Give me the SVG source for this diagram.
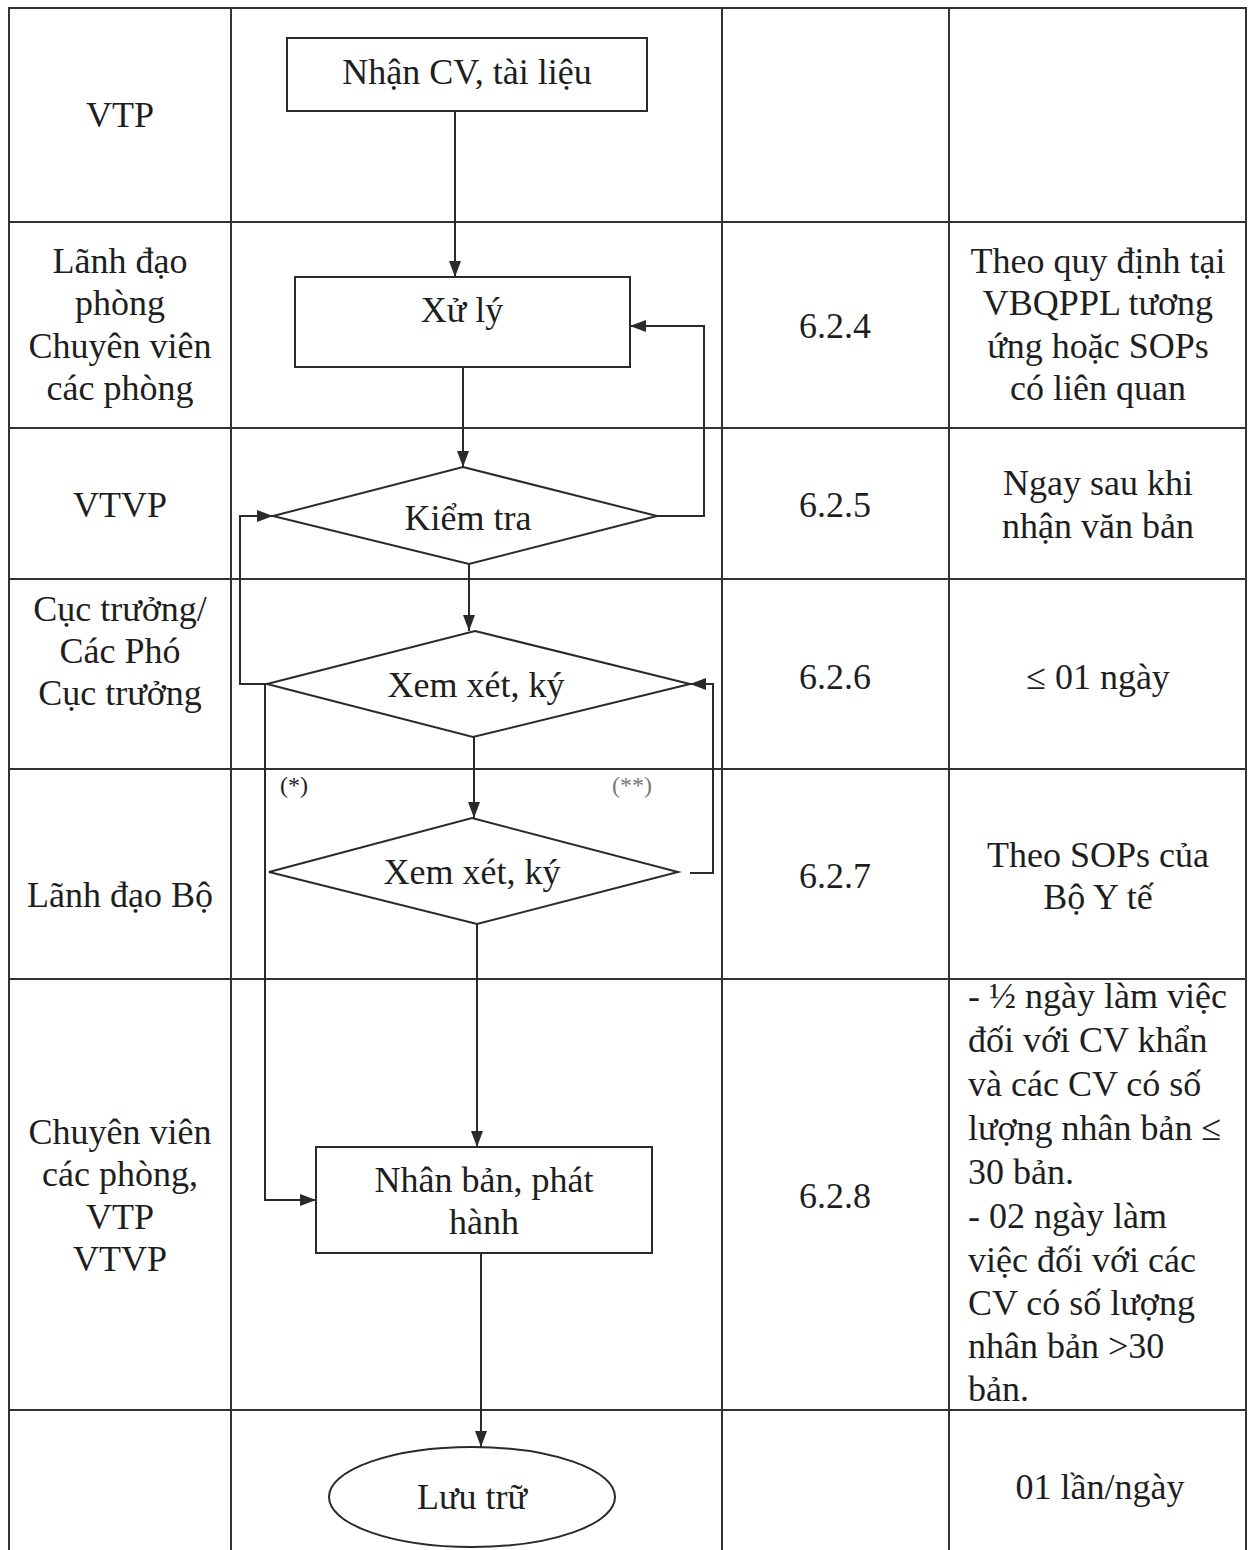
<svg xmlns="http://www.w3.org/2000/svg" width="1252" height="1550" viewBox="0 0 1252 1550">
<style>
.grid{stroke:#333;stroke-width:2;fill:none}
.shape{stroke:#2a2a2a;stroke-width:2;fill:#fff}
.conn{stroke:#2a2a2a;stroke-width:2;fill:none}
text{font-family:"Liberation Serif","Times New Roman",serif;font-size:36px;fill:#1e1e1e}
.c{text-anchor:middle}
.l{text-anchor:start}
.small{font-size:24px}
</style>
<defs>
<marker id="ah" markerUnits="userSpaceOnUse" markerWidth="18" markerHeight="12" refX="16" refY="6" orient="auto">
<path d="M0,0 L16,6 L0,12 Z" fill="#2a2a2a"/>
</marker>
</defs>
<rect width="1252" height="1550" fill="#fff"/>
<g id="table">
<path class="grid" d="M9 1550 V8 H1246 V1550 M231 8 V1550 M722 8 V1550 M949 8 V1550 M9 222 H1246 M9 428 H1246 M9 579 H1246 M9 769 H1246 M9 979 H1246 M9 1410 H1246"/>
</g>
<g id="lane-labels">
<text class="c" x="120" y="127">VTP</text>
<text class="c" x="120" y="273">Lãnh đạo</text>
<text class="c" x="120" y="315">phòng</text>
<text class="c" x="120" y="358">Chuyên viên</text>
<text class="c" x="120" y="400">các phòng</text>
<text class="c" x="120" y="517">VTVP</text>
<text class="c" x="120" y="621">Cục trưởng/</text>
<text class="c" x="120" y="663">Các Phó</text>
<text class="c" x="120" y="705">Cục trưởng</text>
<text class="c" x="120" y="907">Lãnh đạo Bộ</text>
<text class="c" x="120" y="1144">Chuyên viên</text>
<text class="c" x="120" y="1186">các phòng,</text>
<text class="c" x="120" y="1229">VTP</text>
<text class="c" x="120" y="1271">VTVP</text>
</g>
<g id="step-codes">
<text class="c" x="835" y="338">6.2.4</text>
<text class="c" x="835" y="517">6.2.5</text>
<text class="c" x="835" y="689">6.2.6</text>
<text class="c" x="835" y="888">6.2.7</text>
<text class="c" x="835" y="1208">6.2.8</text>
</g>
<g id="time-notes">
<text class="c" x="1098" y="273">Theo quy định tại</text>
<text class="c" x="1098" y="315">VBQPPL tương</text>
<text class="c" x="1098" y="358">ứng hoặc SOPs</text>
<text class="c" x="1098" y="400">có liên quan</text>
<text class="c" x="1098" y="495">Ngay sau khi</text>
<text class="c" x="1098" y="538">nhận văn bản</text>
<text class="c" x="1098" y="689">≤ 01 ngày</text>
<text class="c" x="1098" y="867">Theo SOPs của</text>
<text class="c" x="1098" y="909">Bộ Y tế</text>
<text class="l" x="968" y="1008">- ½ ngày làm việc</text>
<text class="l" x="968" y="1052">đối với CV khẩn</text>
<text class="l" x="968" y="1096">và các CV có số</text>
<text class="l" x="968" y="1140">lượng nhân bản ≤</text>
<text class="l" x="968" y="1184">30 bản.</text>
<text class="l" x="968" y="1228">- 02 ngày làm</text>
<text class="l" x="968" y="1272">việc đối với các</text>
<text class="l" x="968" y="1315">CV có số lượng</text>
<text class="l" x="968" y="1358">nhân bản &gt;30</text>
<text class="l" x="968" y="1401">bản.</text>
<text class="c" x="1100" y="1499">01 lần/ngày</text>
</g>
<g id="connectors">
<path class="conn" d="M455 111 V277" marker-end="url(#ah)"/>
<path class="conn" d="M463 367 V467" marker-end="url(#ah)"/>
<path class="conn" d="M469 564 V631" marker-end="url(#ah)"/>
<path class="conn" d="M474 737 V818" marker-end="url(#ah)"/>
<path class="conn" d="M477 924 V1147" marker-end="url(#ah)"/>
<path class="conn" d="M481 1253 V1447" marker-end="url(#ah)"/>
<path class="conn" d="M657 516 H704 V326 H630" marker-end="url(#ah)"/>
<path class="conn" d="M267 684 H240 V516 H273" marker-end="url(#ah)"/>
<path class="conn" d="M265 684 V1200 H316" marker-end="url(#ah)"/>
<path class="conn" d="M690 873 H713 V684 H690" marker-end="url(#ah)"/>
<text class="small" x="280" y="793">(*)</text>
<text class="small" x="612" y="793" style="fill:#777">(**)</text>
</g>
<g id="n-nhan-cv">
<rect class="shape" x="287" y="38" width="360" height="73"/>
<text class="c" x="467" y="84">Nhận CV, tài liệu</text>
</g>
<g id="n-xu-ly">
<rect class="shape" x="295" y="277" width="335" height="90"/>
<text class="c" x="462" y="322">Xử lý</text>
</g>
<g id="n-kiem-tra">
<polygon class="shape" points="463,467 657,516 469,564 273,516"/>
<text class="c" x="468" y="530">Kiểm tra</text>
</g>
<g id="n-xem-xet-1">
<polygon class="shape" points="475,631 690,684 473,737 267,684"/>
<text class="c" x="476" y="697">Xem xét, ký</text>
</g>
<g id="n-xem-xet-2">
<polygon class="shape" points="472,818 678,872 477,924 269,872"/>
<text class="c" x="472" y="884">Xem xét, ký</text>
</g>
<g id="n-nhan-ban">
<rect class="shape" x="316" y="1147" width="336" height="106"/>
<text class="c" x="484" y="1192">Nhân bản, phát</text>
<text class="c" x="484" y="1234">hành</text>
</g>
<g id="n-luu-tru">
<ellipse class="shape" cx="472" cy="1497" rx="143" ry="50"/>
<text class="c" x="472" y="1509">Lưu trữ</text>
</g>
</svg>
